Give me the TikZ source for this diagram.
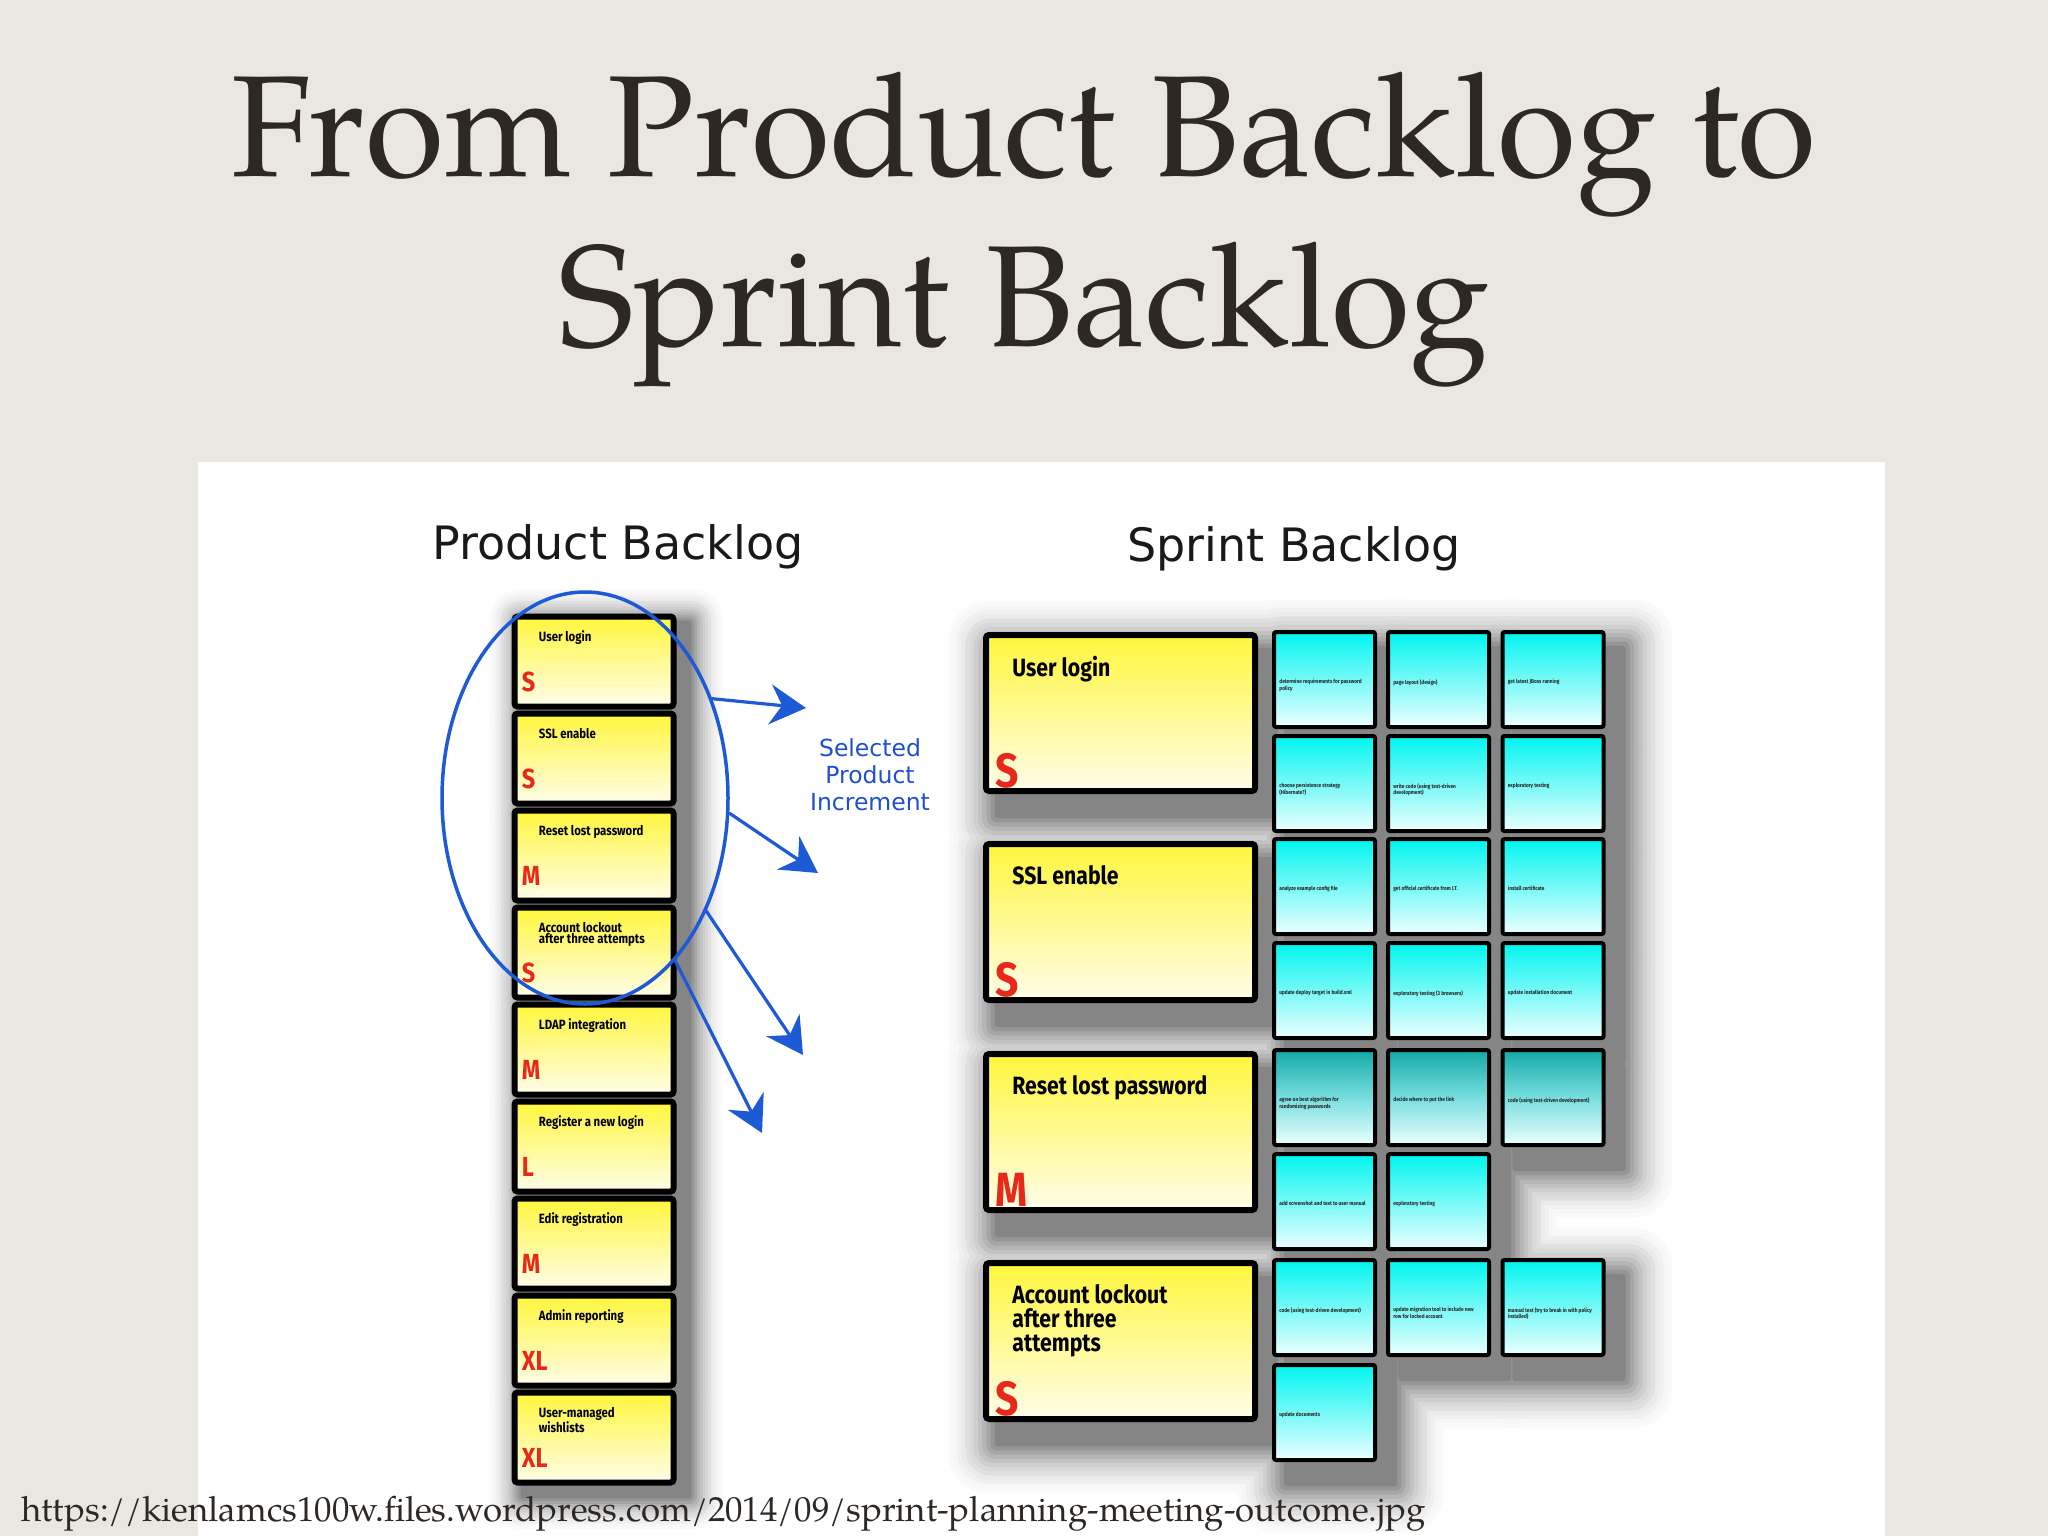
\documentclass[tikz,border=0pt]{standalone}
\usepackage{fontspec}
\usetikzlibrary{shapes.geometric,arrows.meta,calc}
\newfontfamily\cardfont[FakeStretch=0.85]{Fira Sans}
\newfontfamily\headfont{DejaVu Sans}
\newfontfamily\titlefont{TeX Gyre Pagella}
\definecolor{bgbeige}{RGB}{234,231,226}
\definecolor{ybright}{RGB}{255,246,60}
\definecolor{ypale}{RGB}{255,253,234}
\definecolor{cbright}{RGB}{0,245,240}
\definecolor{cpale}{RGB}{236,255,255}
\definecolor{cteal}{RGB}{20,168,168}
\definecolor{cmid}{RGB}{120,222,222}
\definecolor{sizered}{RGB}{232,40,24}
\definecolor{penblue}{RGB}{30,90,214}
\definecolor{labelblue}{RGB}{30,80,205}
\definecolor{titledark}{RGB}{45,40,36}
\pgfdeclarelayer{bglayer}
\pgfdeclarelayer{shadowlayer}
\pgfsetlayers{bglayer,shadowlayer,main}
\tikzset{
  pbcard/.style={draw=black, line width=3pt, rounded corners=1.5pt, inner sep=0,
    minimum width=79.5pt, minimum height=45pt, top color=ybright, bottom color=ypale},
  sbcard/.style={draw=black, line width=3pt, rounded corners=1.5pt, inner sep=0,
    minimum width=134.5pt, minimum height=78pt, top color=ybright, bottom color=ypale},
  cycard/.style={draw=black, line width=2pt, rounded corners=1pt, inner sep=0,
    minimum width=50.5pt, minimum height=47.5pt, top color=cbright, bottom color=cpale},
  tealcard/.style={cycard, top color=cteal, bottom color=cpale, middle color=cmid},
  pbtitle/.style={anchor=north west, inner sep=0, align=left, text=black,
    font=\cardfont\bfseries\fontsize{6.7}{5.6}\selectfont},
  pbsize/.style={anchor=base west, inner sep=0, text=sizered,
    font=\cardfont\bfseries\fontsize{13.8}{14}\selectfont},
  sbtitle/.style={anchor=north west, inner sep=0, align=left, text=black,
    font=\cardfont\bfseries\fontsize{12.5}{12}\selectfont},
  sbsize/.style={anchor=base west, inner sep=0, text=sizered,
    font=\cardfont\bfseries\fontsize{24}{24}\selectfont},
  cytext/.style={anchor=north west, inner sep=0, align=left, text=black!85,
    font=\cardfont\bfseries\fontsize{2.8}{3.1}\selectfont},
  titletext/.style={anchor=base, inner sep=0, text=titledark,
    font=\titlefont\fontsize{72}{74}\selectfont},
  headtext/.style={anchor=base, inner sep=0, text=black!90,
    font=\headfont\fontsize{23}{26}\selectfont},
  penarrow/.style={draw=penblue, line width=1.6pt, line cap=round,
    -{Stealth[length=18pt,width=20pt,inset=6pt]}}
}
\newcommand\pbitem[4]{%
  \node[pbcard] (#1) at (594,#2) {};
  \node[pbtitle] (#1t) at ($(#1.north west)+(27,17)$) {#3};
  \node[pbsize] (#1s) at ($(#1.north west)+(10,78)$) {#4};}
\newcommand\sbitem[4]{%
  \node[sbcard] (#1) at (1120.5,#2) {};
  \node[sbtitle] (#1t) at ($(#1.north west)+(29,24)$) {#3};
  \node[sbsize] (#1s) at ($(#1.north west)+(12,155)$) {#4};}
\newcommand\cyitem[5]{%
  \node[#5] (#1) at (#2,#3) {};
  \node[cytext] (#1t) at ($(#1.north west)+(7,49)$) {#4};}
\begin{document}
\begin{tikzpicture}[x=0.5pt,y=-0.5pt]
\useasboundingbox (0,0) rectangle (2048,1536);
\begin{pgfonlayer}{bglayer}
\fill[bgbeige] (0,0) rectangle (2048,1536);
\fill[white] (198,462) rectangle (1885,1536);
\end{pgfonlayer}

% title
\node[titletext] (title1) at (1024,176) {From Product Backlog to};
\node[titletext] (title2) at (1024,346) {Sprint Backlog};

% headers
\node[headtext] (pbhead) at (618,559) {Product Backlog};
\node[headtext] (sbhead) at (1294,561) {Sprint Backlog};

% product backlog
\pbitem{pb1}{661.5}{User login}{S}
\pbitem{pb2}{758.5}{SSL enable}{S}
\pbitem{pb3}{855.5}{Reset lost password}{M}
\pbitem{pb4}{952.5}{Account lockout\\after three attempts}{S}
\pbitem{pb5}{1049.5}{LDAP integration}{M}
\pbitem{pb6}{1146.5}{Register a new login}{L}
\pbitem{pb7}{1243.5}{Edit registration}{M}
\pbitem{pb8}{1340.5}{Admin reporting}{XL}
\pbitem{pb9}{1437.5}{User-managed\\wishlists}{XL}

% sprint backlog stories
\sbitem{sb1}{713}{User login}{S}
\sbitem{sb2}{922}{SSL enable}{S}
\sbitem{sb3}{1132}{Reset lost password}{M}
\sbitem{sb4}{1341}{Account lockout\\after three\\attempts}{S}

% tasks
\cyitem{c11}{1324.5}{679.5}{determine requirements for password\\policy}{cycard}
\cyitem{c12}{1438.5}{679.5}{page layout (design)}{cycard}
\cyitem{c13}{1553}{679.5}{get latest JBoss running}{cycard}
\cyitem{c21}{1324.5}{783.5}{choose persistence strategy\\(Hibernate?)}{cycard}
\cyitem{c22}{1438.5}{783.5}{write code (using test-driven\\development)}{cycard}
\cyitem{c23}{1553}{783.5}{exploratory testing}{cycard}
\cyitem{c31}{1324.5}{886.5}{analyze example config file}{cycard}
\cyitem{c32}{1438.5}{886.5}{get official certificate from I.T.}{cycard}
\cyitem{c33}{1553}{886.5}{install certificate}{cycard}
\cyitem{c41}{1324.5}{990.5}{update deploy target in build.xml}{cycard}
\cyitem{c42}{1438.5}{990.5}{exploratory testing (3 browsers)}{cycard}
\cyitem{c43}{1553}{990.5}{update installation document}{cycard}
\cyitem{c51}{1324.5}{1097.5}{agree on best algorithm for\\randomizing passwords}{tealcard}
\cyitem{c52}{1438.5}{1097.5}{decide where to put the link}{tealcard}
\cyitem{c53}{1553}{1097.5}{code (using test-driven development)}{tealcard}
\cyitem{c61}{1324.5}{1201.5}{add screenshot and text to user manual}{cycard}
\cyitem{c62}{1438.5}{1201.5}{exploratory testing}{cycard}
\cyitem{c71}{1324.5}{1307.5}{code (using test-driven development)}{cycard}
\cyitem{c72}{1438.5}{1307.5}{update migration tool to include new\\row for locked account}{cycard}
\cyitem{c73}{1553}{1307.5}{manual test (try to break in with policy\\installed)}{cycard}
\cyitem{c81}{1324.5}{1412.5}{update documents}{cycard}

% soft shadows (opaque grey levels, outermost first)
\begin{pgfonlayer}{shadowlayer}
\foreach \i [evaluate=\i as \g using {int(48*((15-\i)/14)^2)}] in {14,13,...,1}{
  \foreach \n in {pb1,pb2,pb3,pb4,pb5,pb6,pb7,pb8,pb9}{
    \fill[black!\g, rounded corners=\i*1.2pt]
      ($(\n.north west)+(12-\i*2.8,10-\i*2.8)$) rectangle ($(\n.south east)+(12+\i*2.8,10+\i*2.8)$);
  }
  \foreach \n in {sb1,sb2,sb3,sb4,c11,c12,c13,c21,c22,c23,c31,c32,c33,c41,c42,c43,c51,c52,c53,c61,c62,c71,c72,c73,c81}{
    \fill[black!\g, rounded corners=\i*1.6pt]
      ($(\n.north west)+(16-\i*4.2,20-\i*4.2)$) rectangle ($(\n.south east)+(16+\i*4.2,20+\i*4.2)$);
  }
}
\end{pgfonlayer}

% selection ellipse and arrows
\node[ellipse, draw=penblue, line width=1.75pt, minimum width=143pt, minimum height=206pt, inner sep=0] (sel) at (585,798) {};
\coordinate (t1) at (806,708);
\coordinate (t2) at (818,873);
\coordinate (t3) at (803,1055);
\coordinate (t4) at (762,1133);
\draw[penarrow] (sel.38) -- (t1);
\draw[penarrow] (sel.-6) -- (t2);
\draw[penarrow] (sel.-43) -- (t3);
\draw[penarrow] (sel.-61) -- (t4);
\node[align=center, anchor=north, inner sep=0, text=labelblue,
  font=\headfont\fontsize{11.75}{13.5}\selectfont] (sellabel) at (870,738) {Selected\\Product\\Increment};

% source
\node[anchor=base west, inner sep=0, text=titledark, font=\titlefont\fontsize{17.4}{20}\selectfont] (url) at (21,1521)
  {https://kienlamcs100w.files.wordpress.com/2014/09/sprint-planning-meeting-outcome.jpg};
\end{tikzpicture}
\end{document}
